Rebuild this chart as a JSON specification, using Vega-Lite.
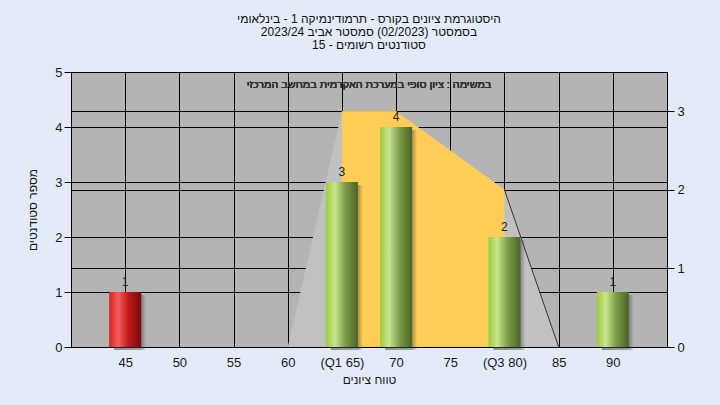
{
  "$schema": "https://vega.github.io/schema/vega-lite/v6.json",
  "width": 596,
  "height": 275,
  "autosize": {"type": "none"},
  "padding": {"left": 71, "top": 72, "right": 53, "bottom": 58},
  "background": "#e2ebf7",
  "config": {
    "font": "Liberation Sans",
    "view": {"fill": "#b4b4b4", "stroke": "#000000", "strokeWidth": 1},
    "axis": {
      "labelFont": "Liberation Sans",
      "titleFont": "Liberation Sans",
      "labelFontSize": 13,
      "titleFontSize": 12,
      "titleFontWeight": "normal",
      "labelColor": "#1a1a1a",
      "titleColor": "#1a1a1a",
      "domainColor": "#000000",
      "tickColor": "#000000",
      "gridColor": "#000000",
      "gridOpacity": 1,
      "gridWidth": 1
    }
  },
  "title": {
    "text": [
      "היסטוגרמת ציונים בקורס - תרמודינמיקה 1 - בינלאומי",
      "בסמסטר  (02/2023)  סמסטר אביב 2023/24",
      "סטודנטים רשומים - 15"
    ],
    "font": "Liberation Sans",
    "fontSize": 12,
    "fontWeight": "normal",
    "color": "#111111",
    "lineHeight": 13,
    "anchor": "middle",
    "offset": 14
  },
  "layer": [
    {
      "data": {
        "values": [
          {"score": 60, "level": 0},
          {"score": 65, "level": 3},
          {"score": 70, "level": 3},
          {"score": 80, "level": 2},
          {"score": 85, "level": 0}
        ]
      },
      "encoding": {
        "x": {
          "field": "score",
          "type": "quantitative",
          "scale": {"domain": [40, 95], "nice": false, "zero": false, "padding": 0},
          "axis": {
            "values": [45, 50, 55, 60, 65, 70, 75, 80, 85, 90],
            "labelExpr": "datum.value == 65 ? '(Q1 65)' : datum.value == 80 ? '(Q3 80)' : datum.label",
            "title": "טווח ציונים",
            "ticks": false,
            "labelPadding": 9,
            "titlePadding": 5,
            "grid": true
          }
        },
        "y": {
          "field": "level",
          "type": "quantitative",
          "scale": {"domain": [0, 3.5], "nice": false},
          "axis": {
            "orient": "right",
            "values": [0, 1, 2, 3],
            "title": null,
            "grid": true,
            "tickSize": 7,
            "labelPadding": 3
          }
        }
      },
      "layer": [
        {"mark": {"type": "area", "color": "#c1c1c1", "opacity": 1}},
        {
          "transform": [{"filter": "datum.score >= 65 && datum.score <= 80"}],
          "mark": {"type": "area", "color": "#ffcc55", "opacity": 1}
        },
        {
          "transform": [{"filter": "datum.score >= 80"}],
          "mark": {"type": "line", "color": "#333333", "strokeWidth": 1}
        }
      ]
    },
    {
      "data": {
        "values": [
          {"score": 45, "count": 1, "group": "fail"},
          {"score": 65, "count": 3, "group": "pass"},
          {"score": 70, "count": 4, "group": "pass"},
          {"score": 80, "count": 2, "group": "pass"},
          {"score": 90, "count": 1, "group": "pass"}
        ]
      },
      "encoding": {
        "x": {"field": "score", "type": "quantitative"},
        "y": {
          "field": "count",
          "type": "quantitative",
          "scale": {"domain": [0, 5], "nice": false},
          "axis": {
            "orient": "left",
            "values": [0, 1, 2, 3, 4, 5],
            "title": "מספר סטודנטים",
            "grid": true,
            "tickSize": 7,
            "labelPadding": 2,
            "titlePadding": 15
          }
        }
      },
      "layer": [
        {
          "mark": {
            "type": "bar",
            "width": 32,
            "xOffset": 5,
            "yOffset": 3,
            "color": {
              "gradient": "linear",
              "x1": 0, "y1": 0, "x2": 1, "y2": 0,
              "stops": [
                {"offset": 0, "color": "rgba(70,70,70,0.55)"},
                {"offset": 0.85, "color": "rgba(70,70,70,0.45)"},
                {"offset": 1, "color": "rgba(70,70,70,0)"}
              ]
            }
          }
        },
        {
          "transform": [{"filter": "datum.group == 'pass'"}],
          "mark": {
            "type": "bar",
            "width": 32,
            "color": {
              "gradient": "linear",
              "x1": 0, "y1": 0, "x2": 1, "y2": 0,
              "stops": [
                {"offset": 0, "color": "#9ccc3c"},
                {"offset": 0.28, "color": "#c8e48e"},
                {"offset": 0.6, "color": "#7e9c48"},
                {"offset": 1, "color": "#4a6424"}
              ]
            }
          }
        },
        {
          "transform": [{"filter": "datum.group == 'fail'"}],
          "mark": {
            "type": "bar",
            "width": 32,
            "color": {
              "gradient": "linear",
              "x1": 0, "y1": 0, "x2": 1, "y2": 0,
              "stops": [
                {"offset": 0, "color": "#dd2020"},
                {"offset": 0.28, "color": "#f36060"},
                {"offset": 0.6, "color": "#c01818"},
                {"offset": 1, "color": "#7a0a0a"}
              ]
            }
          }
        },
        {
          "mark": {
            "type": "text",
            "baseline": "bottom",
            "dy": -3,
            "fontSize": 12,
            "color": "#222222",
            "font": "Liberation Sans"
          },
          "encoding": {"text": {"field": "count", "type": "quantitative"}}
        },
        {
          "mark": {
            "type": "text",
            "fontSize": 10.8,
            "fontWeight": "normal",
            "color": "#333333",
            "font": "Liberation Sans",
            "baseline": "middle",
            "align": "center"
          },
          "encoding": {
            "x": {"datum": 67.5},
            "y": {"datum": 4.76},
            "text": {"value": "במשימה : ציון סופי במערכת האקדמית במחשב המרכזי"}
          }
        }
      ]
    }
  ],
  "resolve": {"scale": {"y": "independent"}}
}
